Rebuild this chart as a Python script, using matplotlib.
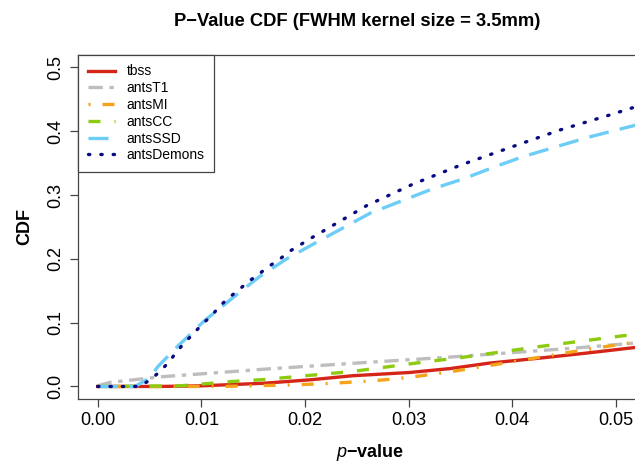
import matplotlib

matplotlib.use("Agg")
import matplotlib.pyplot as plt

plt.rcParams["font.family"] = ["Liberation Sans", "DejaVu Sans"]
plt.rcParams["mathtext.fontset"] = "custom"
plt.rcParams["mathtext.it"] = "Liberation Sans:italic"
plt.rcParams["mathtext.rm"] = "Liberation Sans"

TITLE = "P\u2212Value CDF (FWHM kernel size = 3.5mm)"

# p-value / CDF samples for each registration method
tbss_p = [0.0, 0.006, 0.010, 0.016, 0.0205, 0.0246, 0.0301, 0.034, 0.0378, 0.0427, 0.047, 0.0518, 0.053]
tbss_cdf = [0.0, 0.0, 0.001, 0.005, 0.0104, 0.0168, 0.0219, 0.028, 0.0366, 0.0445, 0.052, 0.061, 0.063]

t1_p = [0.0, 0.0012, 0.0035, 0.006, 0.0119, 0.016, 0.0253, 0.034, 0.0459, 0.0518, 0.053]
t1_cdf = [0.001, 0.0064, 0.0105, 0.015, 0.022, 0.027, 0.037, 0.046, 0.060, 0.068, 0.070]

mi_p = [0.0, 0.012, 0.0165, 0.0184, 0.0202, 0.022, 0.0239, 0.0257, 0.0276, 0.0293, 0.0311,
        0.0328, 0.0346, 0.0363, 0.0381, 0.0399, 0.0416, 0.0434, 0.0452, 0.047, 0.0488, 0.0505, 0.053]
mi_cdf = [0.0, 0.0, 0.0016, 0.0024, 0.0033, 0.0045, 0.0062, 0.008, 0.0103, 0.013, 0.0165,
          0.0203, 0.0245, 0.029, 0.0337, 0.0383, 0.043, 0.0478, 0.0527, 0.0574, 0.062, 0.0662, 0.071]

cc_p = [0.0, 0.008, 0.0132, 0.016, 0.0246, 0.0318, 0.0347, 0.0427, 0.0507, 0.053]
cc_cdf = [0.0, 0.001, 0.008, 0.0108, 0.0235, 0.039, 0.0445, 0.0627, 0.0795, 0.083]

ssd_p = [0.0, 0.0036, 0.005, 0.0058, 0.0077, 0.0103, 0.014, 0.0156, 0.0182, 0.0209, 0.0263,
         0.0292, 0.0322, 0.0353, 0.0381, 0.041, 0.0441, 0.0472, 0.0503, 0.053]
ssd_cdf = [0.0, 0.0, 0.013, 0.031, 0.0627, 0.103, 0.1516, 0.172, 0.1997, 0.224, 0.2717,
           0.29, 0.309, 0.3255, 0.343, 0.36, 0.375, 0.39, 0.403, 0.414]

demons_p = [0.0, 0.004, 0.0051, 0.006, 0.0069, 0.0076, 0.0084, 0.0093, 0.0101, 0.011, 0.0118,
            0.0127, 0.0137, 0.0146, 0.0156, 0.0165, 0.0176, 0.0185, 0.0196, 0.0206, 0.0217,
            0.0259, 0.0304, 0.0351, 0.0398, 0.0446, 0.0495, 0.053]
demons_cdf = [0.0, 0.0, 0.0105, 0.0235, 0.0387, 0.054, 0.069, 0.0837, 0.098, 0.111, 0.1265,
              0.1395, 0.1527, 0.165, 0.1767, 0.188, 0.200, 0.2117, 0.2226, 0.2326, 0.243,
              0.283, 0.317, 0.3475, 0.3746, 0.402, 0.426, 0.444]

x_ticks = [0.00, 0.01, 0.02, 0.03, 0.04, 0.05]
y_ticks = [0.0, 0.1, 0.2, 0.3, 0.4, 0.5]


def plot_cdf() -> None:
    fig = plt.figure(figsize=(6.35, 4.62), dpi=100)
    # plot region runs past the right edge of the canvas
    ax = fig.add_axes([0.1228, 0.1359, 0.9206, 0.7457])

    lw = 2.4
    ax.plot(tbss_p, tbss_cdf, color="#d42518", lw=lw, label="tbss")
    ax.plot(t1_p, t1_cdf, color="#bebebe", lw=lw, dashes=(4.3, 2.0, 1.3, 2.0), label="antsT1")
    ax.plot(mi_p, mi_cdf, color="#f5a31a", lw=lw, dashes=(0.6, 3.6, 3.6, 3.6), label="antsMI")
    ax.plot(cc_p, cc_cdf, color="#8ccb10", lw=lw, dashes=(3.6, 4.2), label="antsCC")
    ax.plot(ssd_p, ssd_cdf, color="#6ccdf7", lw=lw, dashes=(6.0, 3.4), label="antsSSD")
    ax.plot(demons_p, demons_cdf, color="#0a0a80", lw=lw, dashes=(0.4, 3.3),
            dash_capstyle="round", label="antsDemons")

    ax.set_xlim(-0.0019, 0.0545)
    ax.set_ylim(-0.02, 0.52)
    ax.set_xticks(x_ticks)
    ax.set_xticklabels([f"{v:.2f}" for v in x_ticks])
    ax.set_yticks(y_ticks)
    ax.set_yticklabels([f"{v:.1f}" for v in y_ticks], rotation=90, va="center")

    for spine in ax.spines.values():
        spine.set_color("#444444")
        spine.set_linewidth(0.9)
    ax.tick_params(axis="both", direction="out", length=6, width=0.9,
                   color="#444444", labelsize=13)
    ax.tick_params(axis="x", pad=3.5)
    ax.tick_params(axis="y", pad=4)

    ax.set_xlabel(r"$\mathit{p}$" + "\u2212value", fontsize=13, fontweight="bold", labelpad=9)
    ax.set_ylabel("CDF", fontsize=13, fontweight="bold", labelpad=10)
    fig.text(357 / 635, 1 - 22 / 462, TITLE, ha="center", va="center",
             fontsize=13.2, fontweight="bold")

    leg = ax.legend(loc="upper left", bbox_to_anchor=(0, 1), borderaxespad=0,
                    fancybox=False, framealpha=1, edgecolor="#444444",
                    fontsize=10, handlelength=2.0, handletextpad=0.8,
                    labelspacing=0.2, borderpad=0.7)
    leg.get_frame().set_linewidth(0.9)

    fig.savefig("out.png", dpi=100)


def main() -> None:
    plot_cdf()


if __name__ == "__main__":
    main()
